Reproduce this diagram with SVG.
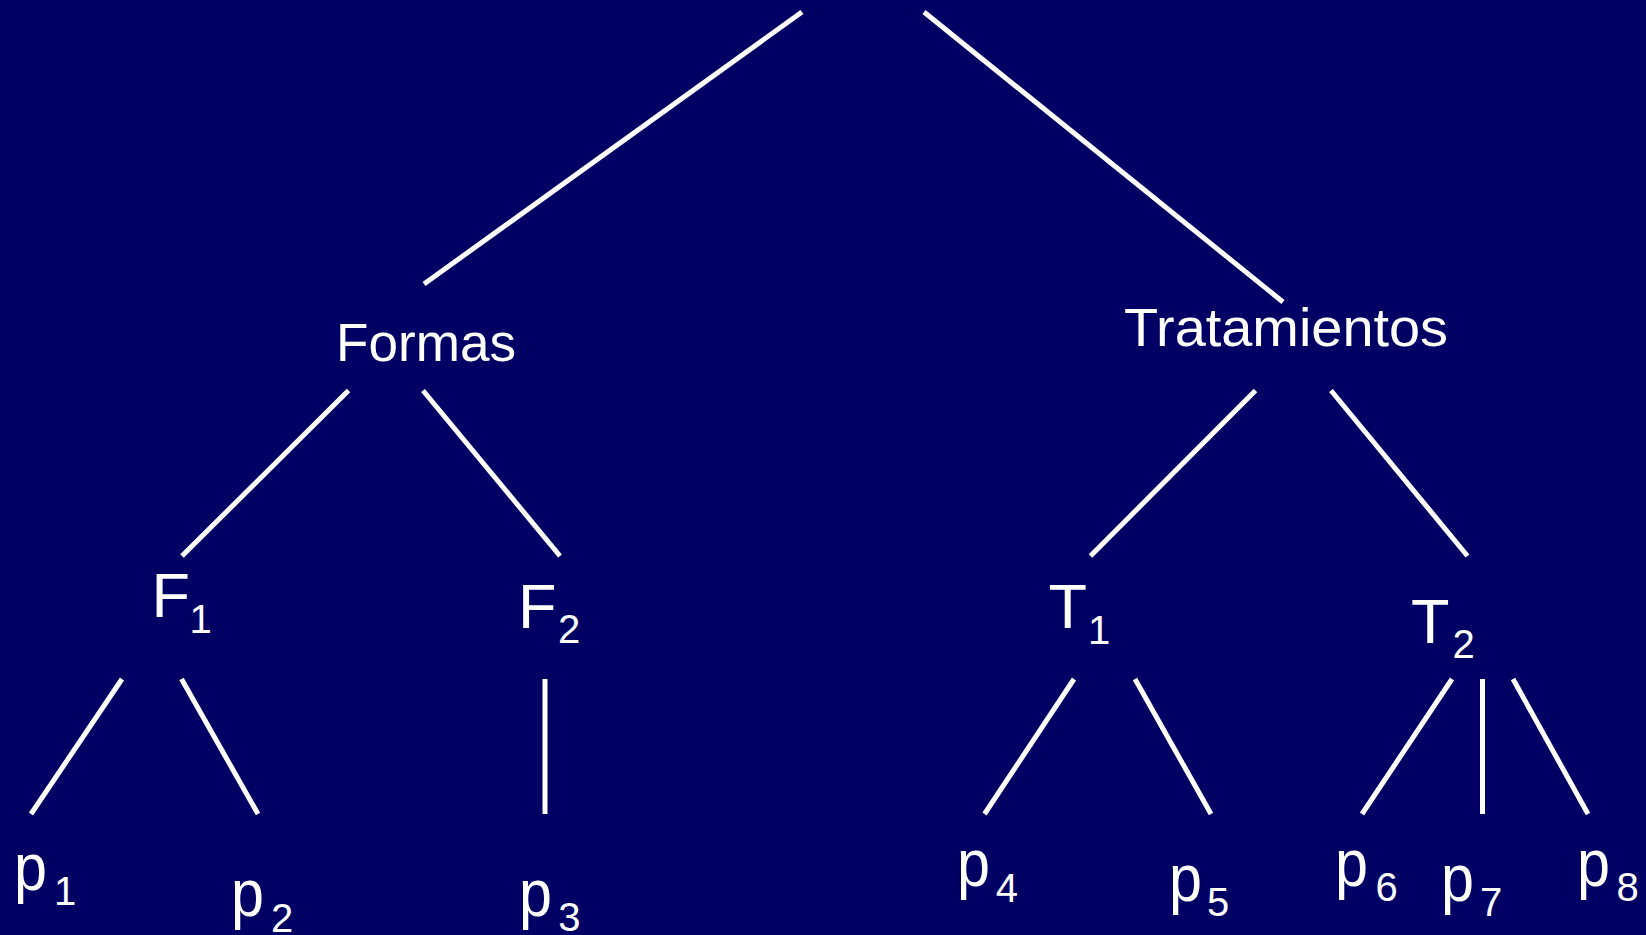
<svg xmlns="http://www.w3.org/2000/svg" width="1646" height="935" viewBox="0 0 1646 935">
<style>
.bg{fill:#000064}
.e{stroke:#ffffff;stroke-width:5;stroke-linecap:butt;fill:none}
text{fill:#ffffff;font-family:"Liberation Sans",Arial,sans-serif}
.lbl{font-size:53px}
.big{font-size:63px}
.pp{font-size:66px}
.sub{font-size:40px}
</style>
<rect class="bg" x="0" y="0" width="1646" height="935"/>
<g id="connectors">
<line class="e" x1="802" y1="12" x2="424" y2="284"/>
<line class="e" x1="924" y1="12" x2="1283" y2="302"/>
<line class="e" x1="348.5" y1="390.5" x2="182" y2="556"/>
<line class="e" x1="423" y1="390.5" x2="560" y2="556"/>
<line class="e" x1="1255.5" y1="390.5" x2="1090.5" y2="556"/>
<line class="e" x1="1331" y1="390.5" x2="1467.5" y2="556"/>
<line class="e" x1="122" y1="679" x2="31" y2="814"/>
<line class="e" x1="181.5" y1="679" x2="258" y2="814"/>
<line class="e" x1="545" y1="679" x2="545" y2="814"/>
<line class="e" x1="1074" y1="679" x2="984.5" y2="814"/>
<line class="e" x1="1135" y1="679" x2="1211" y2="814"/>
<line class="e" x1="1452" y1="679" x2="1362" y2="814"/>
<line class="e" x1="1482.5" y1="679" x2="1482.5" y2="814"/>
<line class="e" x1="1513" y1="679" x2="1588" y2="814"/>
</g>
<g id="formas"><text class="lbl" x="336" y="361" textLength="180" lengthAdjust="spacingAndGlyphs">Formas</text></g>
<g id="tratamientos"><text class="lbl" x="1124" y="346" textLength="324" lengthAdjust="spacingAndGlyphs">Tratamientos</text></g>
<g id="F1"><text class="big" x="151.5" y="617">F</text><text class="sub" x="189.5" y="633">1</text></g>
<g id="F2"><text class="big" x="518" y="628">F</text><text class="sub" x="558" y="643">2</text></g>
<g id="T1"><text class="big" x="1048.6" y="628">T</text><text class="sub" x="1088" y="644">1</text></g>
<g id="T2"><text class="big" x="1411" y="643">T</text><text class="sub" x="1452.6" y="658">2</text></g>
<g id="p1"><text class="pp" x="14" y="890" textLength="33" lengthAdjust="spacingAndGlyphs">p</text><text class="sub" x="54" y="905">1</text></g>
<g id="p2"><text class="pp" x="231" y="916" textLength="33" lengthAdjust="spacingAndGlyphs">p</text><text class="sub" x="271" y="932">2</text></g>
<g id="p3"><text class="pp" x="519" y="916" textLength="33" lengthAdjust="spacingAndGlyphs">p</text><text class="sub" x="558.3" y="931">3</text></g>
<g id="p4"><text class="pp" x="957" y="886" textLength="33" lengthAdjust="spacingAndGlyphs">p</text><text class="sub" x="995.7" y="902">4</text></g>
<g id="p5"><text class="pp" x="1169" y="901" textLength="33" lengthAdjust="spacingAndGlyphs">p</text><text class="sub" x="1207" y="916">5</text></g>
<g id="p6"><text class="pp" x="1335" y="886" textLength="33" lengthAdjust="spacingAndGlyphs">p</text><text class="sub" x="1375.5" y="901">6</text></g>
<g id="p7"><text class="pp" x="1441" y="901" textLength="33" lengthAdjust="spacingAndGlyphs">p</text><text class="sub" x="1480" y="916">7</text></g>
<g id="p8"><text class="pp" x="1577" y="886" textLength="33" lengthAdjust="spacingAndGlyphs">p</text><text class="sub" x="1616.5" y="901">8</text></g>
</svg>
